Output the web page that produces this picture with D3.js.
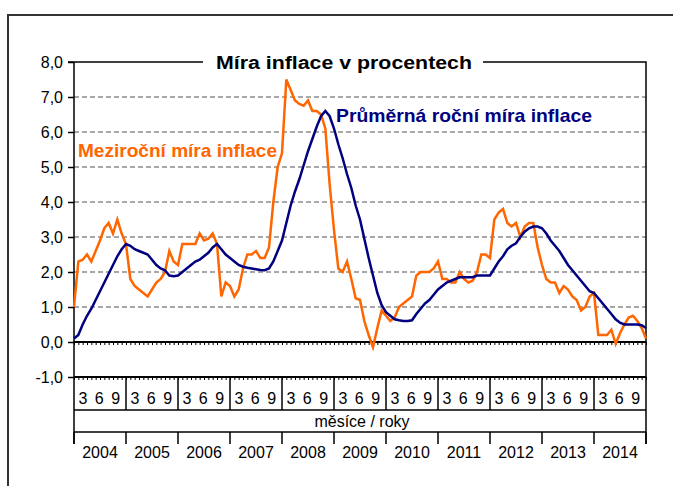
<!DOCTYPE html>
<html>
<head>
<meta charset="utf-8">
<script src="https://cdn.jsdelivr.net/npm/d3@7"></script>
<style>
  body { margin: 0; background: #fff; }
  svg { display: block; font-family: "Liberation Sans", Arial, sans-serif; }
</style>
</head>
<body>
<svg id="chart" width="673" height="486"></svg>
<script>
// months from 12/2003 (index 0) to 12/2014 (index 132)
const years = [2004, 2005, 2006, 2007, 2008, 2009, 2010, 2011, 2012, 2013, 2014];
const yTicks = [-1, 0, 1, 2, 3, 4, 5, 6, 7, 8];
const monthLabel = "3 6 9";

// meziroční míra inflace (y/y, %)
const yoy = [1.0,
  2.3, 2.35, 2.5, 2.3, 2.6, 2.9, 3.25, 3.4, 3.1, 3.5, 3.1, 2.8,
  1.8, 1.6, 1.5, 1.4, 1.3, 1.5, 1.7, 1.8, 2.0, 2.6, 2.3, 2.2,
  2.8, 2.8, 2.8, 2.8, 3.1, 2.9, 2.95, 3.1, 2.8, 1.3, 1.7, 1.6,
  1.3, 1.5, 2.1, 2.5, 2.5, 2.6, 2.4, 2.4, 2.7, 4.0, 5.0, 5.4,
  7.5, 7.2, 6.9, 6.8, 6.75, 6.9, 6.6, 6.6, 6.5, 6.1, 4.5, 3.2,
  2.1, 2.0, 2.3, 1.8, 1.25, 1.2, 0.6, 0.2, -0.15, 0.4, 0.9, 0.75,
  0.6, 0.7, 1.0, 1.1, 1.2, 1.3, 1.9, 2.0, 2.0, 2.0, 2.1, 2.3,
  1.8, 1.8, 1.7, 1.7, 2.0, 1.8, 1.7, 1.75, 2.0, 2.5, 2.5, 2.4,
  3.5, 3.7, 3.8, 3.4, 3.3, 3.4, 3.0, 3.3, 3.4, 3.4, 2.7, 2.2,
  1.8, 1.7, 1.7, 1.4, 1.6, 1.5, 1.3, 1.2, 0.9, 1.0, 1.3, 1.4,
  0.2, 0.2, 0.2, 0.35, -0.05, 0.25, 0.5, 0.7, 0.75, 0.6, 0.4, 0.1];

// průměrná roční míra inflace (%)
const avg = [0.1,
  0.2, 0.5, 0.75, 0.95, 1.2, 1.45, 1.7, 1.95, 2.2, 2.45, 2.65, 2.8,
  2.75, 2.65, 2.6, 2.55, 2.5, 2.35, 2.2, 2.1, 2.05, 1.9, 1.88, 1.9,
  2.0, 2.1, 2.2, 2.3, 2.35, 2.45, 2.55, 2.7, 2.8, 2.65, 2.5, 2.4,
  2.3, 2.2, 2.15, 2.12, 2.1, 2.08, 2.06, 2.05, 2.1, 2.3, 2.6, 2.9,
  3.4, 3.9, 4.3, 4.65, 5.05, 5.45, 5.8, 6.15, 6.45, 6.6, 6.45, 6.1,
  5.65, 5.25, 4.8, 4.4, 3.9, 3.5, 2.95, 2.4, 1.9, 1.4, 1.05, 0.85,
  0.75, 0.65, 0.62, 0.6, 0.6, 0.62, 0.8, 0.95, 1.1, 1.2, 1.35, 1.5,
  1.6, 1.7, 1.75, 1.8, 1.85, 1.85, 1.85, 1.85, 1.9, 1.9, 1.9, 1.9,
  2.1, 2.3, 2.45, 2.65, 2.75, 2.82, 3.0, 3.15, 3.25, 3.3, 3.3, 3.25,
  3.1, 2.9, 2.75, 2.6, 2.4, 2.2, 2.05, 1.9, 1.75, 1.6, 1.45, 1.4,
  1.25, 1.1, 0.95, 0.8, 0.65, 0.55, 0.5, 0.5, 0.5, 0.5, 0.48, 0.4];

const orange = "#ff6600", navy = "#000080";
const plotLeft = 74, plotRight = 646, plotTop = 62;

const svg = d3.select("#chart");

let x = d3.scaleLinear().domain([0, yoy.length - 1]).range([plotLeft, plotRight]);
let y = d3.scaleLinear().domain([-1, 8]).range([377, plotTop]);

// outer frame
svg.append("path")
  .attr("d", "M8,486 V15 H680")
  .attr("fill", "none")
  .attr("stroke", "#333")
  .attr("stroke-width", 2);

// dashed gridlines
svg.append("g")
  .selectAll("line")
  .data(yTicks.filter(d => d > 0 && d < 8))
  .join("line")
  .attr("x1", plotLeft).attr("x2", plotRight)
  .attr("y1", d => y(d)).attr("y2", d => y(d))
  .attr("stroke", "#8c8c8c")
  .attr("stroke-width", 1.5)
  .attr("stroke-dasharray", "5,3");

// y axis
let yAxis = svg.append("g")
  .attr("transform", `translate(${plotLeft},0)`)
  .call(d3.axisLeft(y).tickValues(yTicks).tickSize(6).tickPadding(5)
    .tickFormat(d => d.toFixed(1).replace(".", ",")));
yAxis.select(".domain").remove();
yAxis.selectAll("line").attr("stroke", "#000").attr("stroke-width", 1.5);
yAxis.selectAll("text").attr("font-size", 16).attr("fill", "#000");

// month tick rows (zero line and -1 line)
const monthTicks = d3.range(0, yoy.length);
[0, -1].forEach(v => {
  let g = svg.append("g")
    .attr("transform", `translate(0,${y(v)})`)
    .call(d3.axisBottom(x).tickValues(monthTicks).tickSize(3).tickFormat(""));
  g.select(".domain").attr("stroke", "#000").attr("stroke-width", 2).attr("d", `M${plotLeft},0H${plotRight}`);
  g.selectAll(".tick line").attr("stroke", "#000").attr("stroke-width", 1);
});

// year scale for the category boxes
let xYear = d3.scaleBand().domain(years).range([plotLeft, plotRight]).paddingInner(0).paddingOuter(0);

const rowMonths = 410, rowCaption = 432, rowYearsEnd = 444;

// vertical separators in month row
svg.append("g")
  .selectAll("line")
  .data(years.slice(1))
  .join("line")
  .attr("x1", d => xYear(d)).attr("x2", d => xYear(d))
  .attr("y1", y(-1)).attr("y2", rowMonths)
  .attr("stroke", "#000").attr("stroke-width", 1.5);

// month labels
svg.append("g")
  .selectAll("text")
  .data(years)
  .join("text")
  .attr("x", d => xYear(d) + xYear.bandwidth() / 2)
  .attr("y", 404)
  .attr("text-anchor", "middle")
  .attr("font-size", 16)
  .attr("letter-spacing", 1.5)
  .text(monthLabel);

// row lines
[rowMonths, rowCaption].forEach(yy => {
  svg.append("line")
    .attr("x1", plotLeft).attr("x2", plotRight)
    .attr("y1", yy).attr("y2", yy)
    .attr("stroke", "#000").attr("stroke-width", 1.5);
});

svg.append("text")
  .attr("x", (plotLeft + plotRight) / 2 + 2)
  .attr("y", 427)
  .attr("text-anchor", "middle")
  .attr("font-size", 16)
  .text("měsíce / roky");

// year ticks and labels
svg.append("g")
  .selectAll("line")
  .data(years.concat(["end"]))
  .join("line")
  .attr("x1", d => d === "end" ? plotRight : xYear(d))
  .attr("x2", d => d === "end" ? plotRight : xYear(d))
  .attr("y1", rowCaption).attr("y2", rowYearsEnd)
  .attr("stroke", "#000").attr("stroke-width", 1.5);

svg.append("g")
  .selectAll("text")
  .data(years)
  .join("text")
  .attr("x", d => xYear(d) + xYear.bandwidth() / 2)
  .attr("y", 458)
  .attr("text-anchor", "middle")
  .attr("font-size", 16)
  .text(d => d);

// plot frame: left axis, top and right border
svg.append("path")
  .attr("d", `M${plotLeft - 6},${plotTop} H${plotRight} V${rowYearsEnd} M${plotLeft},${plotTop} V${rowYearsEnd}`)
  .attr("fill", "none")
  .attr("stroke", "#000")
  .attr("stroke-width", 1.5);

// series lines
let line = d3.line().x((d, i) => x(i)).y(d => y(d));

svg.append("path")
  .datum(yoy)
  .attr("d", line)
  .attr("fill", "none")
  .attr("stroke", orange)
  .attr("stroke-width", 2.5);

svg.append("path")
  .datum(avg)
  .attr("d", line)
  .attr("fill", "none")
  .attr("stroke", navy)
  .attr("stroke-width", 2.5);

// title over the top border
svg.append("rect")
  .attr("x", 203).attr("y", 50)
  .attr("width", 280).attr("height", 24)
  .attr("fill", "#fff");

svg.append("text")
  .attr("x", 344)
  .attr("y", 69)
  .attr("text-anchor", "middle")
  .attr("font-size", 18)
  .attr("font-weight", "bold")
  .attr("textLength", 256)
  .attr("lengthAdjust", "spacingAndGlyphs")
  .text("Míra inflace v procentech");

// series labels
svg.append("text")
  .attr("x", 336).attr("y", 122)
  .attr("font-size", 19)
  .attr("font-weight", "bold")
  .attr("fill", navy)
  .attr("textLength", 256)
  .attr("lengthAdjust", "spacingAndGlyphs")
  .text("Průměrná roční míra inflace");

svg.append("text")
  .attr("x", 78).attr("y", 157)
  .attr("font-size", 19)
  .attr("font-weight", "bold")
  .attr("fill", orange)
  .attr("textLength", 199)
  .attr("lengthAdjust", "spacingAndGlyphs")
  .text("Meziroční míra inflace");
</script>
</body>
</html>
